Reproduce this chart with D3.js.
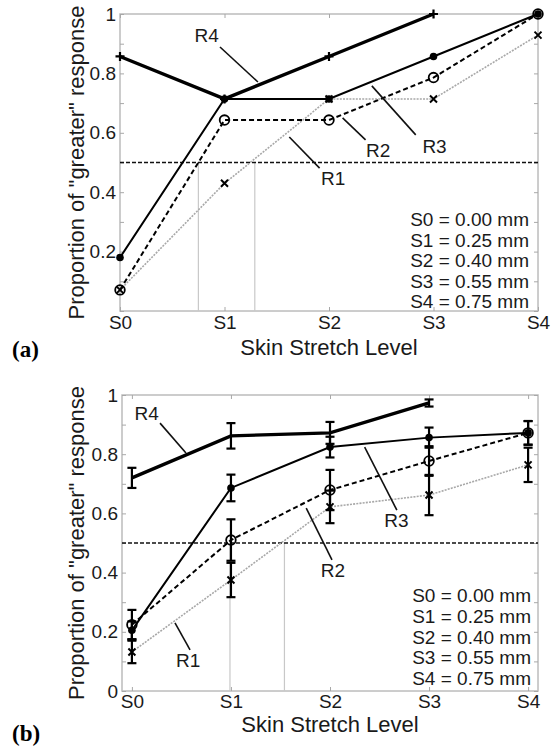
<!DOCTYPE html>
<html>
<head>
<meta charset="utf-8">
<script src="https://cdn.jsdelivr.net/npm/d3@7"></script>
<style>
  body { margin: 0; background: #fff; }
  svg { display: block; font-family: "Liberation Sans", Arial, sans-serif; }
</style>
</head>
<body>
<svg width="554" height="747"></svg>
<script>
// stretch levels
var levels = ["S0", "S1", "S2", "S3", "S4"];
var legendLines = ["S0 = 0.00 mm", "S1 = 0.25 mm", "S2 = 0.40 mm", "S3 = 0.55 mm", "S4 = 0.75 mm"];

// panel (a) proportions, one value per level (null = no point)
var a_R1 = [0.071, 0.43, 0.714, 0.714, 0.929];
var a_R2 = [0.071, 0.643, 0.643, 0.786, 1.0];
var a_R3 = [0.18, 0.714, 0.714, 0.857, 1.0];
var a_R4 = [0.857, 0.714, 0.857, 1.0, null];
var a_pse = [0.75, 1.29];

// panel (b) means and error half-widths
var b_R1 = [0.132, 0.375, 0.622, 0.662, 0.764];
var b_R1err = [0.038, 0.058, 0.055, 0.068, 0.058];
var b_R2 = [0.224, 0.51, 0.679, 0.777, 0.872];
var b_R2err = [0.05, 0.07, 0.068, 0.05, 0.04];
var b_R3 = [0.205, 0.686, 0.824, 0.856, 0.872];
var b_R3err = [0.03, 0.045, 0.035, 0.034, 0.04];
var b_R4 = [0.72, 0.862, 0.872, 0.973, null];
var b_R4err = [0.034, 0.043, 0.037, 0.012, 0];
var b_pse = [0.99, 1.54];

// annotation labels: text position and leader line, in data units
var a_notes = [
  {t: "R4", x: 0.83, y: 0.906, x1: 0.957, y1: 0.889, x2: 1.32, y2: 0.771},
  {t: "R3", x: 3.01, y: 0.532, x1: 2.83, y1: 0.593, x2: 2.41, y2: 0.758},
  {t: "R2", x: 2.47, y: 0.519, x1: 2.35, y1: 0.576, x2: 2.13, y2: 0.65},
  {t: "R1", x: 2.04, y: 0.424, x1: 1.91, y1: 0.481, x2: 1.62, y2: 0.586}
];
var b_notes = [
  {t: "R4", x: 0.15, y: 0.916, x1: 0.284, y1: 0.905, x2: 0.546, y2: 0.804},
  {t: "R3", x: 2.67, y: 0.554, x1: 2.675, y1: 0.611, x2: 2.35, y2: 0.824},
  {t: "R2", x: 2.03, y: 0.385, x1: 2.02, y1: 0.443, x2: 1.76, y2: 0.618},
  {t: "R1", x: 0.567, y: 0.081, x1: 0.587, y1: 0.139, x2: 0.435, y2: 0.23}
];

var svg = d3.select("svg");

// line styles per series
var styles = {
  R1: {stroke: "#a8a8a8", width: 1.6, dash: "2,1.2", marker: "x"},
  R2: {stroke: "#000", width: 2, dash: "5,3", marker: "o"},
  R3: {stroke: "#000", width: 2, dash: null, marker: "dot"},
  R4: {stroke: "#000", width: 3.4, dash: null, marker: "+"}
};

function drawPanel(cfg) {
  var x = d3.scaleLinear().domain(cfg.xdom).range([cfg.left, cfg.right]);
  var y = d3.scaleLinear().domain([0, 1]).range([cfg.bottom, cfg.top]);
  var g = svg.append("g");

  // frame
  g.append("rect")
    .attr("x", cfg.left).attr("y", cfg.top)
    .attr("width", cfg.right - cfg.left).attr("height", cfg.bottom - cfg.top)
    .attr("fill", "none").attr("stroke", "#bcbcbc").attr("stroke-width", 1.5);

  var minor = d3.range(0, 11).map(function(i) { return i / 10; });
  var yAxis = d3.axisLeft(y).tickValues(minor).tickSize(-4).tickPadding(4)
    .tickFormat(function(d) {
      var k = Math.round(d * 10);
      if (k % 2 || (k == 0 && !cfg.showZero)) return "";
      return k == 10 ? "1" : k == 0 ? "0" : d3.format(".1f")(d);
    });
  var gy = g.append("g").attr("transform", "translate(" + cfg.left + ",0)").call(yAxis);
  g.append("g").attr("transform", "translate(" + cfg.right + ",0)")
    .call(d3.axisRight(y).tickValues(minor).tickSize(-4).tickFormat(""));

  var xAxis = d3.axisBottom(x).tickValues([0, 1, 2, 3, 4]).tickSize(-4).tickPadding(cfg.xpad)
    .tickFormat(function(d) { return levels[d]; });
  var gx = g.append("g").attr("transform", "translate(0," + cfg.bottom + ")").call(xAxis);
  g.append("g").attr("transform", "translate(0," + cfg.top + ")")
    .call(d3.axisTop(x).tickValues([0, 1, 2, 3, 4]).tickSize(-4).tickFormat(""));

  g.selectAll(".domain").remove();
  g.selectAll(".tick line").attr("stroke", "#a8a8a8");
  [gx, gy].forEach(function(s) {
    s.selectAll("text").attr("fill", "#1a1a1a").style("font-size", "19px")
      .style("font-family", "'Liberation Sans', Arial, sans-serif");
  });

  // PSE guide lines
  g.selectAll(".pse").data(cfg.pse).enter().append("line")
    .attr("x1", function(d) { return x(d); }).attr("x2", function(d) { return x(d); })
    .attr("y1", y(0.5)).attr("y2", y(0))
    .attr("stroke", "#c8c8c8").attr("stroke-width", 1.2);

  // 50% threshold
  g.append("line")
    .attr("x1", cfg.left).attr("x2", cfg.right).attr("y1", y(0.5)).attr("y2", y(0.5))
    .attr("stroke", "#111").attr("stroke-width", 1.6).attr("stroke-dasharray", "4,2");

  var line = d3.line()
    .defined(function(d) { return d.v != null; })
    .x(function(d) { return x(d.i); })
    .y(function(d) { return y(d.v); });

  cfg.series.forEach(function(s) {
    var st = styles[s.name];
    var pts = s.vals.map(function(v, i) { return {i: i, v: v, e: s.err ? s.err[i] : 0}; })
      .filter(function(d) { return d.v != null; });
    var sg = g.append("g");

    if (s.err) {
      var eb = sg.selectAll(".eb").data(pts).enter().append("g")
        .attr("stroke", "#000").attr("stroke-width", 2.2);
      eb.append("line")
        .attr("x1", function(d) { return x(d.i); }).attr("x2", function(d) { return x(d.i); })
        .attr("y1", function(d) { return y(d.v - d.e); }).attr("y2", function(d) { return y(d.v + d.e); });
      eb.append("line")
        .attr("x1", function(d) { return x(d.i) - 4.5; }).attr("x2", function(d) { return x(d.i) + 4.5; })
        .attr("y1", function(d) { return y(d.v - d.e); }).attr("y2", function(d) { return y(d.v - d.e); });
      eb.append("line")
        .attr("x1", function(d) { return x(d.i) - 4.5; }).attr("x2", function(d) { return x(d.i) + 4.5; })
        .attr("y1", function(d) { return y(d.v + d.e); }).attr("y2", function(d) { return y(d.v + d.e); });
    }

    sg.append("path").datum(pts)
      .attr("d", line)
      .attr("fill", "none")
      .attr("stroke", st.stroke)
      .attr("stroke-width", st.width)
      .attr("stroke-dasharray", st.dash);

    var m = sg.selectAll(".m").data(pts).enter().append("g")
      .attr("transform", function(d) { return "translate(" + x(d.i) + "," + y(d.v) + ")"; });
    if (st.marker == "o") {
      m.append("circle").attr("r", 4.8).attr("fill", "none").attr("stroke", "#000").attr("stroke-width", 1.8);
    } else if (st.marker == "dot") {
      m.append("circle").attr("r", 3.8).attr("fill", "#000");
    } else if (st.marker == "x") {
      m.append("path").attr("d", "M-3.5,-3.5L3.5,3.5M-3.5,3.5L3.5,-3.5")
        .attr("stroke", "#000").attr("stroke-width", 2);
    } else if (st.marker == "+" && !s.err) {
      m.append("path").attr("d", "M-4.5,0L4.5,0M0,-4.5L0,4.5")
        .attr("stroke", "#000").attr("stroke-width", 2.2);
    }
  });

  // series name labels with leader lines
  var n = g.selectAll(".note").data(cfg.notes).enter().append("g");
  n.append("line")
    .attr("x1", function(d) { return x(d.x1); }).attr("y1", function(d) { return y(d.y1); })
    .attr("x2", function(d) { return x(d.x2); }).attr("y2", function(d) { return y(d.y2); })
    .attr("stroke", "#111").attr("stroke-width", 1.6);
  n.append("text")
    .attr("x", function(d) { return x(d.x); }).attr("y", function(d) { return y(d.y); })
    .attr("text-anchor", "middle").style("font-size", "19px").attr("fill", "#1a1a1a")
    .text(function(d) { return d.t; });

  // level legend
  g.selectAll(".leg").data(legendLines).enter().append("text")
    .attr("x", cfg.legX)
    .attr("y", function(d, i) { return cfg.legY + i * cfg.legStep; })
    .attr("text-anchor", "end").style("font-size", "19px").attr("fill", "#1a1a1a")
    .text(function(d) { return d; });

  // axis titles
  g.append("text")
    .attr("x", (cfg.left + cfg.right) / 2).attr("y", cfg.xTitleY)
    .attr("text-anchor", "middle").style("font-size", "22px").attr("fill", "#1a1a1a")
    .text("Skin Stretch Level");
  g.append("text")
    .attr("transform", "translate(" + cfg.yTitleX + "," + (cfg.top + cfg.bottom) / 2 + ") rotate(-90)")
    .attr("text-anchor", "middle").style("font-size", "22px").attr("fill", "#1a1a1a")
    .text("Proportion of \"greater\" response");

  // panel tag
  g.append("text")
    .attr("x", 12).attr("y", cfg.tagY)
    .style("font-family", "'Liberation Serif', 'Times New Roman', serif")
    .style("font-size", "23px").style("font-weight", "bold")
    .text(cfg.tag);
}

drawPanel({
  left: 120, right: 538, top: 14, bottom: 311, xdom: [0, 4], xpad: 5, showZero: false,
  pse: a_pse, notes: a_notes,
  series: [
    {name: "R1", vals: a_R1}, {name: "R2", vals: a_R2},
    {name: "R3", vals: a_R3}, {name: "R4", vals: a_R4}
  ],
  legX: 529, legY: 226, legStep: 20.5, xTitleY: 355, yTitleX: 84, tag: "(a)", tagY: 357
});

drawPanel({
  left: 122, right: 538, top: 395, bottom: 691, xdom: [-0.1, 4.1], xpad: 3, showZero: true,
  pse: b_pse, notes: b_notes,
  series: [
    {name: "R1", vals: b_R1, err: b_R1err}, {name: "R2", vals: b_R2, err: b_R2err},
    {name: "R3", vals: b_R3, err: b_R3err}, {name: "R4", vals: b_R4, err: b_R4err}
  ],
  legX: 531, legY: 602, legStep: 20.75, xTitleY: 732, yTitleX: 84, tag: "(b)", tagY: 741
});
</script>
</body>
</html>
